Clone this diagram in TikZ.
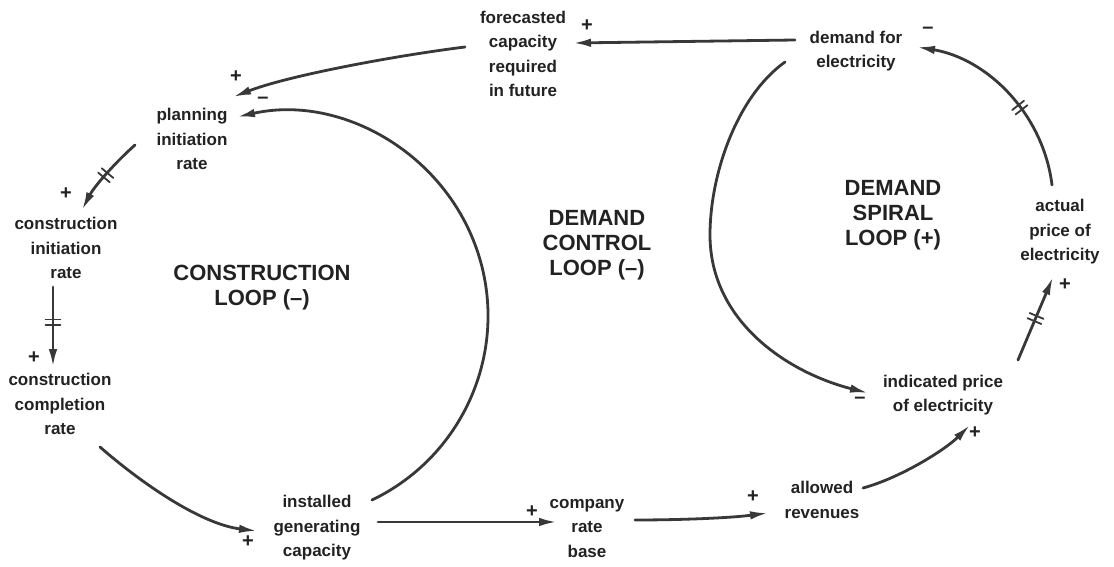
\documentclass[tikz,border=0pt]{standalone}
\usepackage{fontspec}
\setmainfont{Liberation Sans}
\usetikzlibrary{arrows.meta,calc,decorations.markings}
\definecolor{ink}{HTML}{222222}
\definecolor{lnc}{HTML}{383838}
\begin{document}
\begin{tikzpicture}[x=1pt,y=-1pt,
  lbl/.style={font=\fontsize{17}{24.5}\selectfont\bfseries, align=center, inner sep=0pt, text=ink},
  looplbl/.style={font=\fontsize{22}{25}\selectfont\bfseries, align=center, inner sep=0pt, text=ink},
  sgn/.style={font=\fontsize{20}{20}\selectfont\bfseries, inner sep=0pt, text=ink},
  arr/.style={draw=lnc, line width=2.8pt, line cap=round, -{Latex[length=18pt,width=8.5pt]}},
  delay/.style={postaction={decorate}, decoration={markings, mark=at position #1 with {\draw[arrows=-, draw=lnc, line width=1.8pt] (-2.8pt,-7.5pt)--(-2.8pt,7.5pt) (2.8pt,-7.5pt)--(2.8pt,7.5pt);}}}
]
\fill[white] (0,0) rectangle (1114,567);
\useasboundingbox (0,0) rectangle (1114,567);

% variables
\node[lbl] (fcast) at (523,54) {forecasted\\capacity\\required\\in future};
\node[lbl] (dem)   at (856,51) {demand for\\electricity};
\node[lbl] (pir)   at (192,139) {planning\\initiation\\rate};
\node[lbl] (cir)   at (66,248) {construction\\initiation\\rate};
\node[lbl] (ccr)   at (60,404) {construction\\completion\\rate};
\node[lbl] (inst)  at (317,528) {installed\\generating\\capacity};
\node[lbl] (comp)  at (587,528) {company\\rate\\base};
\node[lbl] (allow) at (822,500) {allowed\\revenues};
\node[lbl] (ind)   at (943,395) {indicated price\\of electricity};
\node[lbl] (act)   at (1060,232) {actual\\price of\\electricity};

% loop names
\node[looplbl] (l1) at (262,288) {CONSTRUCTION\\LOOP (--)};
\node[looplbl] (l2) at (597,245) {DEMAND\\CONTROL\\LOOP (--)};
\node[looplbl] (l3) at (893,215) {DEMAND\\SPIRAL\\LOOP (+)};

% connectors
\draw[arr] ($(dem)+(-61,-11)$) -- ($(fcast)+(50,-11)$);
\draw[arr] ($(fcast)+(-58,-7)$) .. controls (400,55) and (290,75) .. ($(pir)+(41,-42)$);
\draw[arr] ($(inst)+(55,-28)$) .. controls (465.7,455.1) and (511,346.6) .. (476.5,248.6)
           .. controls (442,150.6) and (338.6,94.3) .. ($(pir)+(45,-22)$);
\draw[arr, delay=0.5] ($(pir)+(-57,6)$) .. controls (118,160) and (95,185) .. ($(cir)+(16,-38)$);
\draw[arr, delay=0.44] ($(cir)+(-13,39)$) -- ($(ccr)+(-7,-37)$);
\draw[arr] ($(ccr)+(40,43)$) .. controls (140,482) and (200,524) .. ($(inst)+(-60,3)$);
\draw[arr] ($(inst)+(61,-6)$) -- ($(comp)+(-30,-6)$);
\draw[arr] ($(comp)+(48,-8)$) .. controls (680,520) and (730,518) .. ($(allow)+(-54,13)$);
\draw[arr] ($(allow)+(41,-12)$) .. controls (900,478) and (945,450) .. ($(ind)+(27,30)$);
\draw[arr, delay=0.5] ($(ind)+(75,-35)$) -- ($(act)+(-7,45)$);
\draw[arr, delay=0.41] ($(act)+(-8,-47)$) .. controls (1043.3,114.3) and (987.7,58.7) .. ($(dem)+(61,-4)$);
\draw[arr] ($(dem)+(-71,11)$) .. controls (736.4,96.8) and (710,175) .. (710,235)
           .. controls (710,320) and (785.6,372) .. ($(ind)+(-75,-2)$);

% polarity signs
\node[sgn] (s1)  at (587,26)  {+};
\node[sgn] (s2)  at (236,77)  {+};
\node[sgn] (s3)  at (263,100) {--};
\node[sgn] (s4)  at (66,194)  {+};
\node[sgn] (s5)  at (34,358)  {+};
\node[sgn] (s6)  at (248,542) {+};
\node[sgn] (s7)  at (532,512) {+};
\node[sgn] (s8)  at (753,497) {+};
\node[sgn] (s9)  at (975,433) {+};
\node[sgn] (s10) at (860,400) {--};
\node[sgn] (s11) at (1065,285) {+};
\node[sgn] (s12) at (928,30)  {--};
\end{tikzpicture}
\end{document}
